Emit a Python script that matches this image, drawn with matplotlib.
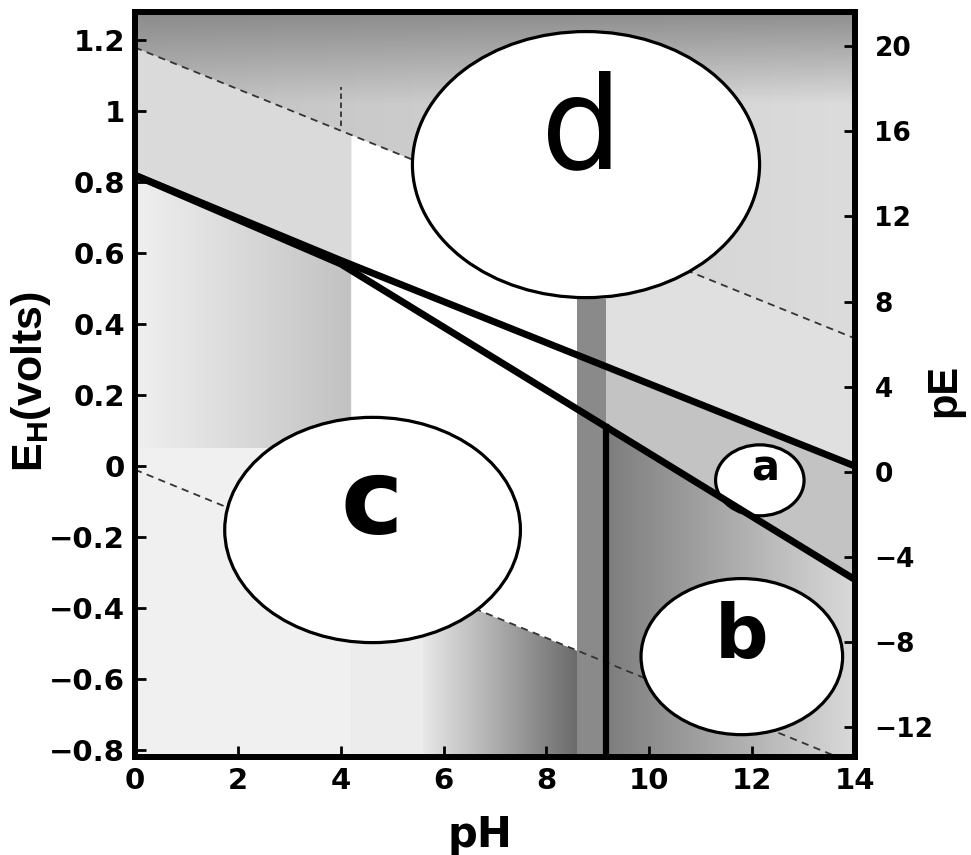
import numpy as np
import matplotlib
matplotlib.use("Agg")
import matplotlib.pyplot as plt
from matplotlib.patches import Ellipse
from matplotlib.colors import LinearSegmentedColormap

plt.rcParams['font.family'] = ['DejaVu Sans']
plt.rcParams['font.weight'] = 'bold'
plt.rcParams['mathtext.fontset'] = 'custom'
plt.rcParams['mathtext.rm'] = 'Liberation Sans:bold'
plt.rcParams['mathtext.it'] = 'Liberation Sans:bold'

# thick boundaries (pH, E_H in volts)
line1_ph = [0, 4, 14]
line1_eh = [0.82, 0.58, 0.0]
line2_ph = [0, 4, 14]
line2_eh = [0.82, 0.57, -0.32]
vert_ph = 9.15
vert_eh = [-0.82, 0.11]

# water stability limits (thin dashed)
water_ph = [0, 14]
water_top = [1.18, 0.36]
water_bot = [-0.01, -0.84]
mark_ph = 4.0
mark_eh = [0.96, 1.07]

# labelled fields: centre, size, and letter baseline
fields = ['d', 'c', 'a', 'b']
field_ph = [8.77, 4.62, 12.15, 11.8]
field_eh = [0.85, -0.18, -0.04, -0.537]
field_w = [6.75, 5.75, 1.72, 3.92]
field_h = [0.75, 0.635, 0.2, 0.44]
letter_ph = [8.68, 4.6, 12.25, 11.8]
letter_eh = [0.84, -0.19, -0.04, -0.54]
letter_size = [92, 76, 30, 54]
letter_weight = ['normal', 'bold', 'bold', 'bold']

# grey bands of the original shading
band_white = [4.2, 8.6]
band_dark = [8.6, vert_ph]
band_dark_top = 0.47
top_strip = 1.02

ph_ticks = [0, 2, 4, 6, 8, 10, 12, 14]
eh_ticks = [-0.8, -0.6, -0.4, -0.2, 0, 0.2, 0.4, 0.6, 0.8, 1.0, 1.2]
eh_labels = ['\u22120.8', '\u22120.6', '\u22120.4', '\u22120.2', '0', '0.2',
             '0.4', '0.6', '0.8', '1', '1.2']
pe_ticks = [-12, -8, -4, 0, 4, 8, 12, 16, 20]
pe_labels = ['\u221212', '\u22128', '\u22124', '0', '4', '8', '12', '16', '20']

XMIN, XMAX = 0, 14
YMIN, YMAX = -0.82, 1.28

fig = plt.figure(figsize=(9.71, 8.55), dpi=100)
ax = fig.add_axes([0.139, 0.1146, 0.7415, 0.8713])
ax.set_facecolor('#e2e2e2')


def L1(x):
    return np.interp(x, line1_ph, line1_eh)


def L2(x):
    return np.interp(x, line2_ph, line2_eh)


def WT(x):
    return np.interp(x, water_ph, water_top)


def WB(x):
    return np.interp(x, water_ph, water_bot)


def shade(x, lo, hi, c0, c1, z=1, horizontal=True):
    poly = ax.fill_between(x, lo, hi, color='none', lw=0)
    g = np.linspace(0, 1, 256)
    g = g.reshape(1, -1) if horizontal else g.reshape(-1, 1)
    cmap = LinearSegmentedColormap.from_list('s', [c0, c1])
    im = ax.imshow(g, extent=[x.min(), x.max(), np.min(lo), np.max(hi)],
                   aspect='auto', cmap=cmap, origin='lower', zorder=z,
                   interpolation='bilinear')
    im.set_clip_path(poly.get_paths()[0], transform=ax.transData)


x_all = np.linspace(XMIN, XMAX, 200)
# above the upper water line, darkening toward the top edge
shade(x_all, WT(x_all), np.full_like(x_all, YMAX), '#c2c2c2', '#dcdcdc')
x_t = np.linspace(XMIN, XMAX, 200)
top_lo = np.maximum(WT(x_t), top_strip)
shade(x_t, top_lo, np.full_like(x_t, YMAX), (0.5, 0.5, 0.5, 0.0),
      (0.5, 0.5, 0.5, 0.85), z=1.1, horizontal=False)
# left field, darker toward pH 4
x_l = np.linspace(0, band_white[0], 60)
ax.fill_between(x_l, YMIN, L2(x_l), color='#f0f0f0', lw=0, zorder=1)
shade(x_l, np.full_like(x_l, 0.05), L2(x_l), '#f0f0f0', '#c2c2c2', z=1.05)
ax.fill_between(x_l, L1(x_l), WT(x_l), color='#dadada', lw=0, zorder=1.1)
# white band
x_w = np.linspace(band_white[0], band_white[1], 60)
ax.fill_between(x_w, WB(x_w), WT(x_w), color='white', lw=0, zorder=1.5)
ax.fill_between(x_w, YMIN, WB(x_w), color='#ececec', lw=0, zorder=1.2)
x_s = np.linspace(5.6, band_white[1], 40)
shade(x_s, np.full_like(x_s, YMIN), WB(x_s), '#e8e8e8', '#6a6a6a', z=1.3)
# dark band next to the vertical boundary
ax.fill_between(band_dark, YMIN, band_dark_top, color='#8a8a8a', lw=0,
                zorder=1.5)
# right fields
x_r = np.linspace(vert_ph, XMAX, 80)
shade(x_r, np.full_like(x_r, YMIN), L2(x_r), '#7d7d7d', '#dadada', z=1.4)
x_r2 = np.linspace(band_dark[1], XMAX, 80)
ax.fill_between(x_r2, L2(x_r2), L1(x_r2), color='#c3c3c3', lw=0, zorder=1.4)
ax.fill_between(x_r2, L1(x_r2), WT(x_r2), color='#e0e0e0', lw=0, zorder=1.4)

# dashed water lines
ax.plot(water_ph, water_top, ls=(0, (4, 3)), color='#333333', lw=1.3,
        zorder=3)
ax.plot(water_ph, water_bot, ls=(0, (4, 3)), color='#333333', lw=1.3,
        zorder=3)
ax.plot([mark_ph, mark_ph], mark_eh, ls=(0, (3, 2)), color='#333333', lw=1.3,
        zorder=3)

# labelled fields
for name, cx, cy, w, h in zip(fields, field_ph, field_eh, field_w, field_h):
    ax.add_patch(Ellipse((cx, cy), w, h, facecolor='white', edgecolor='black',
                         lw=2.3, zorder=4))
for name, tx, ty, fs, fw in zip(fields, letter_ph, letter_eh, letter_size,
                                letter_weight):
    ax.text(tx, ty, name, fontsize=fs, fontweight=fw, ha='center',
            va='baseline', zorder=6, family='DejaVu Sans')

# thick boundaries
ax.plot(line1_ph, line1_eh, color='black', lw=5, zorder=5,
        solid_capstyle='butt')
ax.plot(line2_ph, line2_eh, color='black', lw=5, zorder=5,
        solid_capstyle='butt')
ax.plot([vert_ph, vert_ph], vert_eh, color='black', lw=4.5, zorder=5)

ax.set_xlim(XMIN, XMAX)
ax.set_ylim(YMIN, YMAX)
ax.set_xticks(ph_ticks)
ax.set_xticklabels([str(t) for t in ph_ticks])
ax.set_yticks(eh_ticks)
ax.set_yticklabels(eh_labels)
ax.tick_params(direction='in', length=8, width=2, labelsize=21, pad=7,
               top=False, right=False)
for s in ax.spines.values():
    s.set_linewidth(4.3)
    s.set_zorder(7)

ax2 = ax.twinx()
ax2.set_ylim(-13.4, 21.6)
ax2.set_yticks(pe_ticks)
ax2.set_yticklabels(pe_labels)
ax2.tick_params(direction='in', length=8, width=2, labelsize=19, pad=14)
for s in ax2.spines.values():
    s.set_linewidth(4.3)

fig.text(31 / 971, 1 - 382 / 855, r'E$_{\rm H}$(volts)', rotation=90,
         ha='center', va='center', fontsize=31, fontweight='bold',
         family='Liberation Sans')
fig.text(944 / 971, 1 - 390 / 855, 'pE', rotation=90, ha='center',
         va='center', fontsize=30, fontweight='bold', family='Liberation Sans')
fig.text(480 / 971, 8 / 855, 'pH', ha='center', va='baseline', fontsize=30,
         fontweight='bold')

fig.savefig('out.png', dpi=100)
